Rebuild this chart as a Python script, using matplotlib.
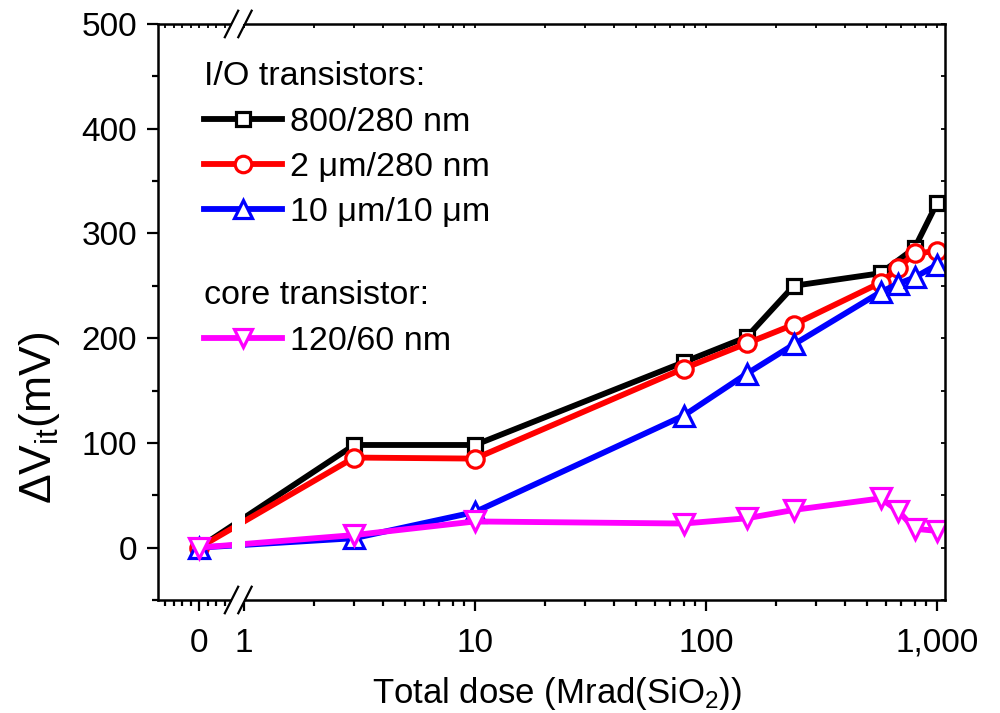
import numpy as np
import matplotlib
matplotlib.use("Agg")
import matplotlib.pyplot as plt
from matplotlib.ticker import FixedLocator, FixedFormatter, NullFormatter
from matplotlib.lines import Line2D
from matplotlib.patches import Rectangle

plt.rcParams["font.family"] = ["Liberation Sans", "DejaVu Sans"]
plt.rcParams["mathtext.default"] = "regular"

# total dose (Mrad(SiO2)), 0 = pre-irradiation
dose_800 = [0, 3, 10, 80, 150, 240, 570, 800, 1000]
dose_io = [0, 3, 10, 80, 150, 240, 570, 680, 800, 1000]
dose_core = [0, 3, 10, 80, 150, 240, 570, 680, 800, 1000]

# delta V_it (mV)
dvit_800_280 = [0, 98, 98, 177, 201, 250, 262, 286, 329]
dvit_2u_280 = [0, 86, 85, 171, 195, 213, 253, 267, 281, 283]
dvit_10u_10u = [0, 9, 34, 126, 166, 194, 244, 252, 258, 270]
dvit_core = [0, 12, 25, 23, 28, 36, 47, 35, 18, 16]

# broken x axis: linear piece around 0, log piece from 1 up
U0, S = -0.1948, 0.368
XA, XB = 0.35, 0.9
UA, UB = U0 + S * XA, np.log10(XB)


def fwd(x):
    x = np.asarray(x, dtype=float)
    lin = U0 + S * x
    lg = np.log10(np.clip(x, XB, None))
    mid = UA + (x - XA) * (UB - UA) / (XB - XA)
    return np.where(x <= XA, lin, np.where(x >= XB, lg, mid))


def inv(u):
    u = np.asarray(u, dtype=float)
    lin = (u - U0) / S
    lg = 10 ** np.clip(u, UB, None)
    mid = XA + (u - UA) * (XB - XA) / (UB - UA)
    return np.where(u <= UA, lin, np.where(u >= UB, lg, mid))


xmin, xmax = inv(-0.3723), inv(3.0346)
ymin, ymax = -50, 500

xmajor = [0, 1, 10, 100, 1000]
xlabels = ["0", "1", "10", "100", "1,000"]
xminor = [-0.4, -0.3, -0.2, -0.1, 0.1, 0.2, 0.3] + \
    [m * 10 ** e for e in range(3) for m in range(2, 10)]

fig = plt.figure(figsize=(10, 7.13), dpi=100)
rect = [0.158, 0.1585, 0.787, 0.8079]
ax = fig.add_axes(rect)
ax.set_xscale("function", functions=(fwd, inv))

kw = dict(lw=4.2, mew=2.3, mfc="white")
l1, = ax.plot(dose_800, dvit_800_280, "-s", color="black", ms=10.5, **kw)
l2, = ax.plot(dose_io, dvit_2u_280, "-o", color="red", ms=12.5, **kw)
l3, = ax.plot(dose_io, dvit_10u_10u, "-^", color="blue", ms=14, **kw)
l4, = ax.plot(dose_core, dvit_core, "-v", color="magenta", ms=14, **kw)

ax.set_xlim(xmin, xmax)
ax.set_ylim(ymin, ymax)
ax.xaxis.set_major_locator(FixedLocator(xmajor))
ax.xaxis.set_major_formatter(FixedFormatter(xlabels))
ax.xaxis.set_minor_locator(FixedLocator(xminor))
ax.xaxis.set_minor_formatter(NullFormatter())
ax.set_yticks(np.arange(0, 501, 100))
ax.set_yticks(np.arange(-50, 501, 100), minor=True)
ax.tick_params(which="major", direction="out", length=8, width=1.6,
               labelsize=24)
ax.tick_params(axis="x", which="major", pad=12)
ax.tick_params(axis="y", which="major", pad=7)
ax.tick_params(which="minor", direction="out", length=4.5, width=1.6)
for s in ax.spines.values():
    s.set_linewidth(1.8)

ax.set_xlabel("Total dose (Mrad(SiO$_2$))", fontsize=25)
ax.xaxis.set_label_coords(0.507, -0.131)
ax.set_ylabel("ΔV$_{it}$(mV)", fontsize=32)
ax.yaxis.set_label_coords(-0.122, 0.316)

# small inward ticks on top and right
ov = fig.add_axes(rect, frameon=False)
ov.set_xscale("function", functions=(fwd, inv))
ov.set_xlim(xmin, xmax)
ov.set_ylim(ymin, ymax)
ov.xaxis.set_major_locator(FixedLocator(xmajor + xminor))
ov.yaxis.set_major_locator(FixedLocator(np.arange(-50, 501, 50)))
ov.xaxis.tick_top()
ov.yaxis.tick_right()
ov.tick_params(direction="in", length=3, width=1.3,
               labeltop=False, labelright=False)

# axis break: white gap plus two slashes on both spines
bx1, bx2 = 0.0934, 0.1105
gap = Rectangle((bx1, -0.006), bx2 - bx1, 1.012, transform=ax.transAxes,
                facecolor="white", edgecolor="none", zorder=10, clip_on=False)
ax.add_patch(gap)
dx, dy = 0.0085, 0.023
for yb in (0, 1):
    for xb in (bx1, bx2):
        ax.add_line(Line2D([xb - dx, xb + dx], [yb - dy, yb + dy],
                           transform=ax.transAxes, color="black", lw=1.6,
                           zorder=11, clip_on=False))

# legends: two groups with left aligned headers
lkw = dict(frameon=False, fontsize=24.5, title_fontsize=24.5,
           alignment="left", handlelength=2.3, handletextpad=0.24,
           labelspacing=0.42, markerscale=0.95, borderaxespad=0, borderpad=0)
leg1 = ax.legend([l1, l2, l3], ["800/280 nm", "2 μm/280 nm", "10 μm/10 μm"],
                 title="I/O transistors:", loc="upper left",
                 bbox_to_anchor=(0.058, 0.935), **lkw)
leg1.set_zorder(12)
ax.add_artist(leg1)
leg2 = ax.legend([l4], ["120/60 nm"], title="core transistor:",
                 loc="upper left", bbox_to_anchor=(0.058, 0.555), **lkw)
leg2.set_zorder(12)

fig.savefig("out.png", dpi=100)
